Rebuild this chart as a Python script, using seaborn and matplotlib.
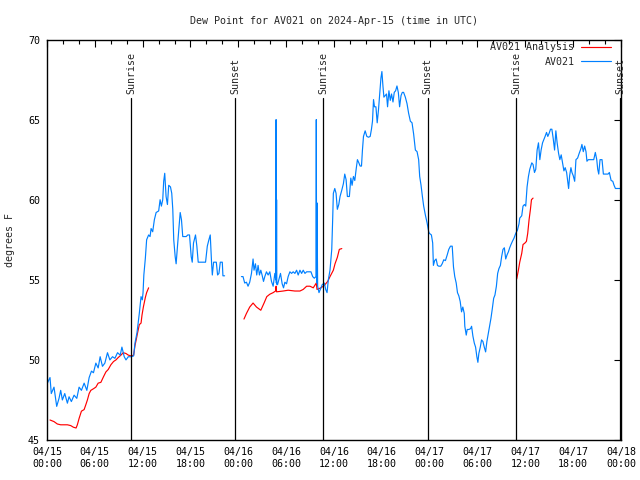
import numpy as np
import pandas as pd
import matplotlib
matplotlib.use("Agg")
import matplotlib.pyplot as plt
import matplotlib.dates as mdates
import seaborn as sns

# hours after 2024-04-15 00:00 UTC, dew point in degrees F
blue1_h = [0.0, 0.38, 0.54, 0.88, 1.22, 1.51, 1.72, 1.93, 2.23, 2.56, 2.77, 3.06, 3.40, 3.74,
           4.03, 4.32, 4.66, 5.00, 5.29, 5.58, 5.83, 6.13, 6.42, 6.67, 6.96, 7.26, 7.59, 7.89,
           8.22, 8.52, 8.85, 9.19, 9.40, 9.69, 9.91, 10.20, 10.61, 10.87, 11.04, 11.29, 11.58,
           11.80, 11.96, 12.05, 12.15, 12.34, 12.50, 12.75, 12.93, 13.06, 13.26, 13.47, 13.69,
           14.01, 14.19, 14.35, 14.52, 14.64, 14.77, 14.94, 15.11, 15.27, 15.49, 15.65, 15.78,
           15.90, 16.08, 16.20, 16.37, 16.53, 16.71, 16.87, 17.03, 17.46, 17.66, 17.88, 18.09,
           18.22, 18.38, 18.63, 18.80, 18.97, 19.55, 19.89, 20.11, 20.31, 20.48, 20.65, 20.74,
           20.90, 21.24, 21.40, 21.57, 21.74, 21.99, 22.07, 22.28]
blue1_v = [48.5, 48.9, 47.9, 48.3, 47.1, 47.6, 48.1, 47.5, 47.9, 47.3, 47.7, 47.4, 47.8, 47.6,
           48.3, 48.1, 48.55, 48.1, 48.9, 49.3, 49.2, 49.8, 49.5, 50.2, 49.6, 49.8, 50.45, 50.0,
           50.2, 50.1, 50.45, 50.3, 50.8, 50.2, 50.0, 50.2, 50.2, 50.25, 51.05, 51.7, 52.9,
           53.95, 53.75, 54.2, 55.3, 56.35, 57.5, 57.8, 57.7, 58.2, 58.0, 58.75, 59.2,
           59.3, 60.0, 59.6, 60.0, 61.15, 61.65, 60.2, 59.7, 60.9, 60.8, 60.4, 59.4,
           57.5, 56.45, 56.0, 57.1, 58.1, 59.2, 58.75, 57.7, 57.7, 57.8, 57.8, 56.45,
           56.1, 57.3, 57.8, 57.1, 56.1, 56.1, 56.1, 57.1, 57.5, 57.8, 56.0, 55.3,
           56.1, 56.1, 55.3, 55.4, 56.1, 56.1, 55.25, 55.25]

blue2_h = [24.39, 24.59, 24.80, 25.02, 25.22, 25.43, 25.65, 25.85, 25.97, 26.15, 26.31, 26.48,
           26.65, 26.82, 26.98, 27.16, 27.32, 27.53, 27.74, 27.95, 28.16, 28.37, 28.58, 28.71,
           28.74, 28.77, 28.80, 28.83, 28.92, 29.08, 29.29, 29.50, 29.67, 29.84, 30.05, 30.25,
           30.47, 30.68, 30.88, 31.10, 31.31, 31.51, 31.73, 31.94, 32.14, 32.36, 32.57, 32.77,
           33.11, 33.33, 33.53, 33.74, 33.78, 33.82, 33.87, 33.95, 34.12, 34.37, 34.53, 34.79,
           34.96, 35.13, 35.29, 35.50, 35.72, 35.84, 35.92, 36.10, 36.26, 36.42, 36.60, 36.76,
           36.98, 37.18, 37.35, 37.52, 37.68, 37.93, 38.11, 38.27, 38.44, 38.61, 38.78, 38.94,
           39.12, 39.28, 39.45, 39.57, 39.70, 39.91, 40.12, 40.33, 40.54, 40.70, 40.83, 40.96,
           41.08, 41.26, 41.42, 41.58, 41.71, 41.89, 42.01, 42.14, 42.26, 42.43, 42.59, 42.72,
           42.89, 43.06, 43.22, 43.40, 43.56, 43.73, 43.90, 44.07, 44.23, 44.41, 44.57, 44.73,
           44.95, 45.16, 45.36, 45.58, 45.79, 45.99, 46.21, 46.42, 46.62, 46.75, 46.92, 47.09,
           47.25, 47.46, 47.68, 47.88, 47.97, 48.22, 48.38, 48.47, 48.63, 48.81, 48.98, 49.14,
           49.39, 49.57, 49.77, 49.98, 50.20, 50.40, 50.61, 50.83, 50.99, 51.15, 51.33, 51.49,
           51.66, 51.83, 52.00, 52.16, 52.34, 52.41, 52.59, 52.71, 52.92, 53.13, 53.26, 53.42,
           53.60, 53.76, 53.92, 54.05, 54.17, 54.35, 54.51, 54.68, 54.85, 55.02, 55.18, 55.36,
           55.52, 55.69, 55.86, 56.03, 56.19, 56.37, 56.53, 56.69, 56.87, 57.03, 57.20, 57.37,
           57.54, 57.70, 57.88, 58.04, 58.20, 58.38, 58.58, 58.80, 59.01, 59.21, 59.30, 59.55,
           59.71, 59.89, 60.05, 60.22, 60.39, 60.56, 60.81, 60.97, 61.15, 61.31, 61.48, 61.65,
           61.82, 61.98, 62.16, 62.32, 62.48, 62.66, 62.82, 62.99, 63.16, 63.33, 63.49, 63.67,
           63.83, 63.99, 64.17, 64.33, 64.50, 64.67, 64.84, 65.00, 65.18, 65.31, 65.43, 65.56,
           65.72, 65.85, 66.01, 66.19, 66.35, 66.56, 66.76, 66.98, 67.10, 67.27, 67.44, 67.61,
           67.73, 67.90, 68.24, 68.58, 68.78, 68.96, 69.08, 69.21, 69.37, 69.62, 69.79, 70.13,
           70.38, 70.54, 70.76, 70.97, 71.13, 71.30, 71.60, 72.0]
blue2_v = [55.2, 55.2, 54.8, 54.85, 54.6, 54.85, 55.4, 56.3, 55.6, 56.0, 55.3, 55.9,
           55.3, 55.6, 55.3, 54.9, 55.2, 55.5, 55.3, 55.5, 54.9, 54.6, 55.4, 55.0,
           65.0, 54.8, 60.0, 54.7, 54.7, 55.0, 55.4, 54.75, 54.5, 54.85, 54.75, 55.2,
           55.5, 55.4, 55.5, 55.4, 55.6, 55.3, 55.6, 55.4, 55.6, 55.4, 55.5, 55.5,
           55.5, 55.2, 55.1, 55.2, 65.0, 54.8, 59.8, 54.6, 54.2, 54.5, 54.7, 54.8,
           54.4, 54.2, 55.0, 55.6, 56.9, 58.85, 60.4, 60.7, 60.4, 59.4, 59.7, 60.2,
           60.6, 61.0, 61.6, 61.25, 60.2, 60.2, 61.35, 60.9, 61.45, 61.2, 61.9, 62.5,
           62.3, 62.1, 62.1, 63.1, 63.95, 64.3, 63.95, 63.9, 63.95, 64.4, 64.9, 66.25,
           65.8, 65.8, 64.8, 65.6, 66.45, 67.6, 68.0, 67.1, 66.4, 66.5, 66.6, 65.8,
           66.8, 66.2, 66.6, 66.1, 66.7, 66.8, 67.1, 66.7, 65.8, 66.5, 66.7, 66.7,
           66.4, 66.0, 65.4, 64.9, 64.8, 64.1, 63.1, 63.0, 62.5, 61.45, 60.9, 60.2,
           59.6, 59.05, 58.55, 58.0, 57.9, 57.8, 57.3, 55.9, 56.2, 56.3, 55.9, 55.85,
           55.85, 56.0, 56.25, 56.2, 56.55, 56.9, 57.1, 57.1, 55.8, 55.2, 54.8, 54.2,
           54.0, 53.65, 53.0, 53.3, 52.9, 52.1, 51.55, 51.9, 51.9, 51.95, 52.1, 51.5,
           51.05, 50.8, 50.2, 49.85, 50.4, 50.8, 51.25, 51.15, 50.8, 50.5, 51.15, 51.65,
           52.1, 52.6, 53.2, 53.85, 54.05, 54.6, 55.4, 55.7, 55.9, 56.45, 56.9, 57.0,
           56.3, 56.55, 56.75, 57.0, 57.2, 57.4, 57.6, 57.9, 58.1, 58.5, 58.85, 59.0,
           59.6, 59.7, 59.6, 60.8, 61.45, 61.9, 62.3, 62.2, 61.7, 61.9, 63.1, 63.55,
           62.5, 63.1, 63.55, 63.75, 63.95, 64.2, 63.95, 64.15, 64.4, 64.4, 63.85, 63.1,
           64.3, 63.55, 62.9, 62.5, 62.8, 62.3, 61.8, 62.0, 61.7, 61.15, 60.7, 61.5,
           62.0, 61.7, 61.5, 61.15, 62.5, 62.6, 62.9, 63.2, 63.45, 63.0, 63.35, 63.0,
           62.4, 62.5, 62.5, 62.5, 62.95, 62.5, 61.9, 61.6, 62.5, 62.5, 61.6, 61.6,
           61.6, 61.7, 61.2, 61.15, 60.9, 60.7, 60.7, 60.7]

red1_h = [0.38, 0.88, 1.30, 1.72, 2.56, 2.98, 3.31, 3.65, 3.81, 4.03, 4.32, 4.66, 4.87, 5.07,
          5.29, 5.50, 5.83, 6.13, 6.42, 6.76, 7.09, 7.39, 7.68, 8.02, 8.35, 8.65, 8.94, 9.28,
          9.57, 9.91, 10.20, 10.54, 10.87, 11.04, 11.21, 11.37, 11.58, 11.80, 11.92, 12.09,
          12.34, 12.50, 12.75]
red1_v = [46.25, 46.15, 46.0, 45.95, 45.95, 45.9, 45.8, 45.75, 45.95, 46.35, 46.8, 46.9, 47.2,
          47.5, 47.9, 48.1, 48.2, 48.3, 48.55, 48.6, 48.95, 49.25, 49.4, 49.7, 49.9, 50.0,
          50.15, 50.3, 50.45, 50.4, 50.3, 50.25, 50.3, 50.9, 51.3, 51.7, 52.2, 52.3, 52.8,
          53.3, 53.9, 54.2, 54.5]

red2_h = [24.71, 25.02, 25.43, 25.85, 26.28, 26.82, 27.23, 27.57, 27.95, 28.37, 28.67, 28.74,
          28.80, 29.62, 30.25, 31.10, 31.73, 32.14, 32.57, 32.99, 33.40, 33.78, 33.87, 34.37,
          34.66, 34.87, 35.21, 35.50, 35.92, 36.13, 36.42, 36.67, 36.98]
red2_v = [52.55, 52.9, 53.3, 53.55, 53.3, 53.1, 53.55, 53.95, 54.1, 54.2, 54.3, 54.6,
          54.25, 54.3, 54.35, 54.3, 54.3, 54.4, 54.6, 54.6, 54.5, 54.8, 54.4, 54.5,
          54.6, 54.7, 54.9, 55.2, 55.6, 56.0, 56.4, 56.9, 56.95]

red3_h = [58.92, 59.13, 59.30, 59.55, 59.71, 59.96, 60.14, 60.30, 60.47, 60.64, 60.77, 60.97]
red3_v = [55.05, 55.6, 56.1, 56.65, 57.2, 57.3, 57.4, 57.9, 58.75, 59.4, 60.0, 60.1]

sunrise_h = [10.6, 34.65, 58.85]
sunset_h = [23.6, 47.75, 71.9]

start = pd.Timestamp("2024-04-15 00:00")

rows = []
for name, seg, hrs, vals in [
    ("AV021 Analysis", "r1", red1_h, red1_v),
    ("AV021 Analysis", "r2", red2_h, red2_v),
    ("AV021 Analysis", "r3", red3_h, red3_v),
    ("AV021", "b1", blue1_h, blue1_v),
    ("AV021", "b2", blue2_h, blue2_v),
]:
    for h, v in zip(hrs, vals):
        rows.append({"series": name, "seg": seg, "time": start + pd.Timedelta(hours=h), "dew": v})
df = pd.DataFrame(rows)

sns.set_style("white")
plt.rcParams["font.family"] = ["DejaVu Sans Mono"]
plt.rcParams["font.size"] = 7.2

fig = plt.figure(figsize=(6.4, 4.8), dpi=100)
ax = fig.add_axes([0.0734, 0.0833, 0.8969, 0.8344])

sns.lineplot(data=df, x="time", y="dew", hue="series", units="seg", estimator=None,
             hue_order=["AV021 Analysis", "AV021"], palette=["#ff0000", "#0080ff"],
             linewidth=0.85, sort=False, ax=ax)

for h in sunrise_h:
    t = start + pd.Timedelta(hours=h)
    ax.axvline(t, ymin=0, ymax=0.854, color="black", lw=0.9)
    ax.text(t, 0.864, "Sunrise", transform=ax.get_xaxis_transform(), rotation=90,
            ha="center", va="bottom", fontsize=7.2)
for h in sunset_h:
    t = start + pd.Timedelta(hours=h)
    ax.axvline(t, ymin=0, ymax=0.854, color="black", lw=0.9)
    ax.text(t, 0.864, "Sunset", transform=ax.get_xaxis_transform(), rotation=90,
            ha="center", va="bottom", fontsize=7.2)

ax.set_xlim(start, start + pd.Timedelta(hours=72))
ax.set_ylim(45, 70)
ax.set_yticks([45, 50, 55, 60, 65, 70])
ax.xaxis.set_major_locator(mdates.HourLocator(byhour=[0, 6, 12, 18]))
ax.xaxis.set_minor_locator(mdates.HourLocator(byhour=range(0, 24, 2)))
ax.xaxis.set_major_formatter(mdates.DateFormatter("%m/%d\n%H:%M"))
ax.tick_params(which="both", direction="in", top=True, right=True, colors="black",
               labelsize=7.2)
ax.tick_params(which="major", length=5, width=0.8, pad=5)
ax.tick_params(which="minor", length=3, width=0.8)
for sp in ax.spines.values():
    sp.set_color("black")
    sp.set_linewidth(1.0)

ax.set_title("Dew Point for AV021 on 2024-Apr-15 (time in UTC)", pad=11, fontsize=7.2)
ax.set_xlabel("")
ax.set_ylabel("degrees F", fontsize=7.2)
ax.yaxis.set_label_coords(-0.056, 0.5)

handles, labels = ax.get_legend_handles_labels()
ax.legend(handles, labels, loc="upper right", bbox_to_anchor=(0.992, 1.006), frameon=False,
          markerfirst=False, handlelength=3.0, borderaxespad=0.1, labelspacing=0.45,
          handletextpad=0.7, fontsize=7.2)

fig.savefig("out.png", dpi=100)
